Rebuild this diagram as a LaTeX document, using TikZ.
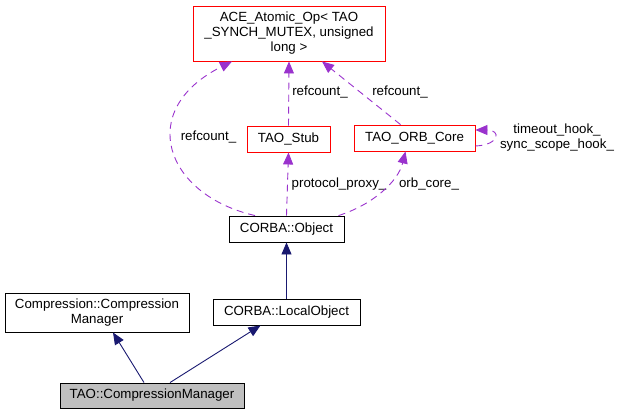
\documentclass[tikz,border=0pt]{standalone}
\usepackage{fontspec}
\setmainfont{Liberation Sans}
\usetikzlibrary{arrows.meta,calc}
\definecolor{pedge}{HTML}{9A32CD}
\definecolor{nedge}{HTML}{191970}
\definecolor{gfill}{HTML}{BFBFBF}
\tikzset{
  box/.style={draw=black, line width=0.9pt, fill=white, align=center, inner sep=1pt,
    font=\fontsize{13.3}{15}\selectfont},
  redbox/.style={box, draw=red},
  lbl/.style={inner sep=0pt, font=\fontsize{13.3}{15}\selectfont, align=center},
  useedge/.style={draw=pedge, line width=0.9pt, dash pattern=on 7pt off 5pt,
    -{Triangle[length=12pt,width=10pt,fill=pedge]}},
  inhedge/.style={draw=nedge, line width=0.9pt,
    -{Triangle[length=12pt,width=10pt,fill=nedge]}},
}
\begin{document}
\begin{tikzpicture}[x=1pt,y=-1pt]
\useasboundingbox (0,0) rectangle (617,415);
\node[redbox, minimum width=192pt, minimum height=55pt] (ace) at (289,33.5)
  {ACE\_Atomic\_Op< TAO\\\_SYNCH\_MUTEX, unsigned\\long >};
\node[redbox, minimum width=83pt, minimum height=26pt] (stub) at (288.5,139) {TAO\_Stub};
\node[redbox, minimum width=121pt, minimum height=26pt] (orb) at (414.5,138) {TAO\_ORB\_Core};
\node[box, minimum width=115pt, minimum height=26pt] (obj) at (286.5,229) {CORBA::Object};
\node[box, minimum width=184pt, minimum height=39pt] (comp) at (97,312.5)
  {Compression::Compression\\Manager};
\node[box, minimum width=147pt, minimum height=26pt] (lobj) at (286.5,312) {CORBA::LocalObject};
\node[box, fill=gfill, minimum width=184pt, minimum height=25pt] (tao) at (152,395.5)
  {TAO::CompressionManager};

% labels
\node[lbl] (l1) at (320,92) {refcount\_};
\node[lbl] (l2) at (400,92) {refcount\_};
\node[lbl] (l3) at (208.5,137) {refcount\_};
\node[lbl] (l4) at (339,184) {protocol\_proxy\_};
\node[lbl] (l5) at (429,184) {orb\_core\_};
\node[lbl] (l6) at (557,138) {timeout\_hook\_\\sync\_scope\_hook\_};

% usage edges
\draw[useedge] (stub.north) -- (ace.south);
\draw[useedge] ($(orb.north)+(-14,0)$) -- ($(ace.south)+(33,0)$);
\draw[useedge] ($(obj.north)+(-31.5,0)$) .. controls (165,195) and (135,110) .. ($(ace.south)+(-57,0)$);
\draw[useedge] (obj.north) -- (stub.south);
\draw[useedge] ($(obj.north)+(52,0)$) .. controls (372,205) and (398,182) .. ($(orb.south)+(-9,0)$);
\draw[useedge] ($(orb.east)+(0,8)$) .. controls ($(orb.east)+(24,7)$) and ($(orb.east)+(26,-8)$) .. ($(orb.east)+(0,-8)$);

% inheritance edges
\draw[inhedge] (lobj.north) -- (obj.south);
\draw[inhedge] ($(tao.north)+(-8,0)$) -- ($(comp.south)+(16,0)$);
\draw[inhedge] ($(tao.north)+(18,0)$) -- ($(lobj.south)+(-26,0)$);
\end{tikzpicture}
\end{document}
